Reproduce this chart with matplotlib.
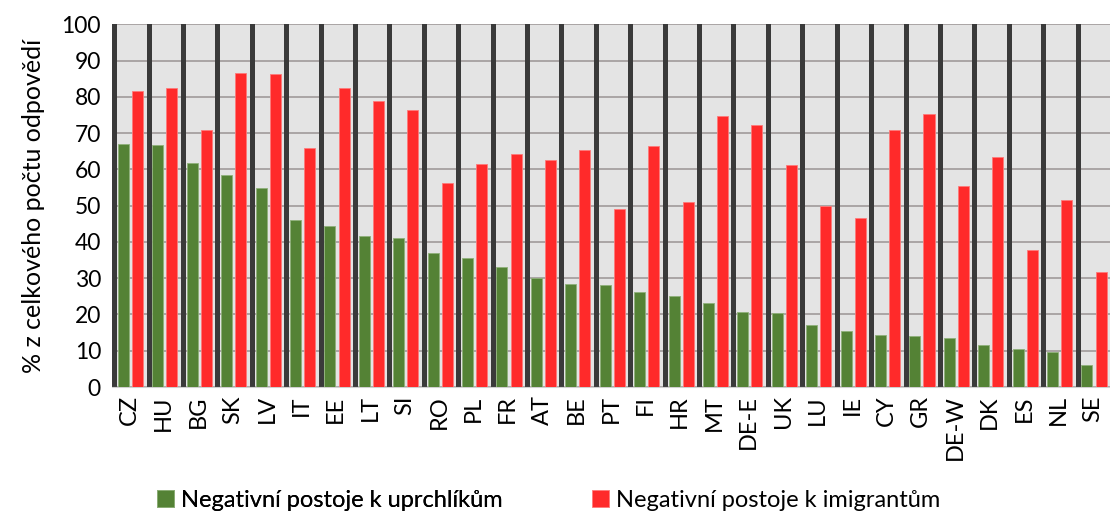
import matplotlib
matplotlib.use("Agg")
import matplotlib.pyplot as plt
import numpy as np

countries = ["CZ", "HU", "BG", "SK", "LV", "IT", "EE", "LT", "SI", "RO", "PL", "FR", "AT", "BE",
             "PT", "FI", "HR", "MT", "DE-E", "UK", "LU", "IE", "CY", "GR", "DE-W", "DK", "ES", "NL", "SE"]
refugees = [67, 66.7, 61.7, 58.4, 54.8, 46, 44.4, 41.6, 41, 36.9, 35.5, 33, 30, 28.4,
            28.1, 26.2, 25, 23.1, 20.7, 20.4, 17, 15.4, 14.3, 14, 13.5, 11.6, 10.5, 9.6, 6]
immigrants = [81.5, 82.4, 70.8, 86.5, 86.2, 65.8, 82.4, 78.8, 76.3, 56.2, 61.4, 64.2, 62.5, 65.3,
              49, 66.4, 51, 74.7, 72.2, 61.2, 49.9, 46.6, 70.8, 75.2, 55.4, 63.4, 37.7, 51.5, 31.7]
background = [100] * len(countries)
yticks = list(range(0, 101, 10))

plt.rcParams['font.family'] = ['Lato', 'DejaVu Sans']

fig = plt.figure(figsize=(11.1, 5.16), dpi=100)
ax = fig.add_axes([0.101, 0.25, 0.899, 0.703])

n = len(countries)
x = np.arange(n)
ax.bar(x + 0.0, background, width=0.145, align='edge', color='#3a3a3a', zorder=2, linewidth=0)
g = ax.bar(x + 0.17, refugees, width=0.32, align='edge', color='#548235', zorder=3,
           edgecolor='#8fb07a', linewidth=0.6, label='Negativní postoje k uprchlíkům')
r = ax.bar(x + 0.58, immigrants, width=0.32, align='edge', color='#ff2a2a', zorder=3,
           edgecolor='#ff7a7a', linewidth=0.6, label='Negativní postoje k imigrantům')

ax.set_xlim(0, n)
ax.set_ylim(0, 100)
ax.set_facecolor('#e4e4e4')
ax.set_yticks(yticks)
ax.set_yticklabels([str(v) for v in yticks], fontsize=16.5)
ax.yaxis.grid(True, color='#aaa5a5', linewidth=1.4, zorder=1)
ax.set_axisbelow(True)
ax.set_xticks(x + 0.5)
ax.set_xticklabels(countries, rotation=90, fontsize=17)
ax.tick_params(axis='both', length=0)
ax.tick_params(axis='y', pad=8)
ax.tick_params(axis='x', pad=6)
for s in ['left', 'right', 'top']:
    ax.spines[s].set_visible(False)
ax.spines['bottom'].set_color('#d0d0d0')
ax.set_ylabel('% z celkového počtu odpovědí', fontsize=18, labelpad=12)

leg1 = fig.legend(handles=[g], loc='center left', bbox_to_anchor=(157 / 1110, 0.031), frameon=False,
                  fontsize=17, handlelength=0.7, handleheight=0.7, handletextpad=0.3, borderpad=0,
                  borderaxespad=0)
leg2 = fig.legend(handles=[r], loc='center left', bbox_to_anchor=(592 / 1110, 0.031), frameon=False,
                  fontsize=17, handlelength=0.7, handleheight=0.7, handletextpad=0.3, borderpad=0,
                  borderaxespad=0)
fig.add_artist(leg1)

fig.savefig('out.png', dpi=100)
